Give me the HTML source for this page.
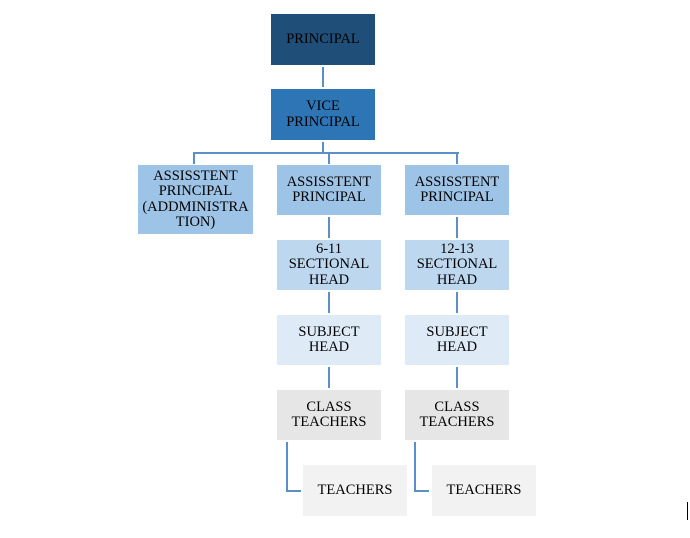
<!DOCTYPE html>
<html><head><style>
body{margin:0;width:690px;height:538px;background:#fff;position:relative;overflow:hidden;font-family:"Liberation Serif",serif;}
.b{position:absolute;display:flex;align-items:center;justify-content:center;text-align:center;font-size:14.5px;line-height:15.5px;color:#000;}
.l{position:absolute;background:#5b8fc7;}
</style></head><body>
<div class="b" style="left:271px;top:14px;width:104px;height:51px;background:#1f4e79;">PRINCIPAL</div>
<div class="l" style="left:322px;top:67px;width:2px;height:20px;"></div>
<div class="b" style="left:271px;top:89px;width:104px;height:51px;background:#2e75b6;">VICE<br>PRINCIPAL</div>
<div class="l" style="left:322px;top:142px;width:2px;height:11px;"></div>
<div class="l" style="left:193px;top:152px;width:266px;height:2px;"></div>
<div class="l" style="left:193px;top:152px;width:2px;height:12px;"></div>
<div class="l" style="left:328px;top:152px;width:2px;height:12px;"></div>
<div class="l" style="left:456px;top:152px;width:2px;height:12px;"></div>
<div class="b" style="left:138px;top:165px;width:115px;height:69px;background:#9dc3e6;">ASSISSTENT<br>PRINCIPAL<br>(ADDMINISTRA<br>TION)</div>
<div class="b" style="left:277px;top:165px;width:104px;height:50px;background:#9dc3e6;">ASSISSTENT<br>PRINCIPAL</div>
<div class="b" style="left:405px;top:165px;width:104px;height:50px;background:#9dc3e6;">ASSISSTENT<br>PRINCIPAL</div>
<div class="l" style="left:328px;top:217px;width:2px;height:21px;"></div>
<div class="l" style="left:456px;top:217px;width:2px;height:21px;"></div>
<div class="b" style="left:277px;top:240px;width:104px;height:50px;background:#bdd7ee;">6-11<br>SECTIONAL<br>HEAD</div>
<div class="b" style="left:405px;top:240px;width:104px;height:50px;background:#bdd7ee;">12-13<br>SECTIONAL<br>HEAD</div>
<div class="l" style="left:328px;top:292px;width:2px;height:21px;"></div>
<div class="l" style="left:456px;top:292px;width:2px;height:21px;"></div>
<div class="b" style="left:277px;top:315px;width:104px;height:50px;background:#deebf7;">SUBJECT<br>HEAD</div>
<div class="b" style="left:405px;top:315px;width:104px;height:50px;background:#deebf7;">SUBJECT<br>HEAD</div>
<div class="l" style="left:328px;top:367px;width:2px;height:21px;"></div>
<div class="l" style="left:456px;top:367px;width:2px;height:21px;"></div>
<div class="b" style="left:277px;top:390px;width:104px;height:50px;background:#e6e6e6;">CLASS<br>TEACHERS</div>
<div class="b" style="left:405px;top:390px;width:104px;height:50px;background:#e6e6e6;">CLASS<br>TEACHERS</div>
<div class="l" style="left:286px;top:442px;width:2px;height:50px;"></div>
<div class="l" style="left:286px;top:490px;width:15px;height:2px;"></div>
<div class="l" style="left:414px;top:442px;width:2px;height:50px;"></div>
<div class="l" style="left:414px;top:490px;width:15px;height:2px;"></div>
<div class="b" style="left:303px;top:465px;width:104px;height:51px;background:#f2f2f2;">TEACHERS</div>
<div class="b" style="left:432px;top:465px;width:104px;height:51px;background:#f2f2f2;">TEACHERS</div>
<div style="position:absolute;left:687px;top:502px;width:1px;height:18px;background:#000;"></div>
</body></html>
